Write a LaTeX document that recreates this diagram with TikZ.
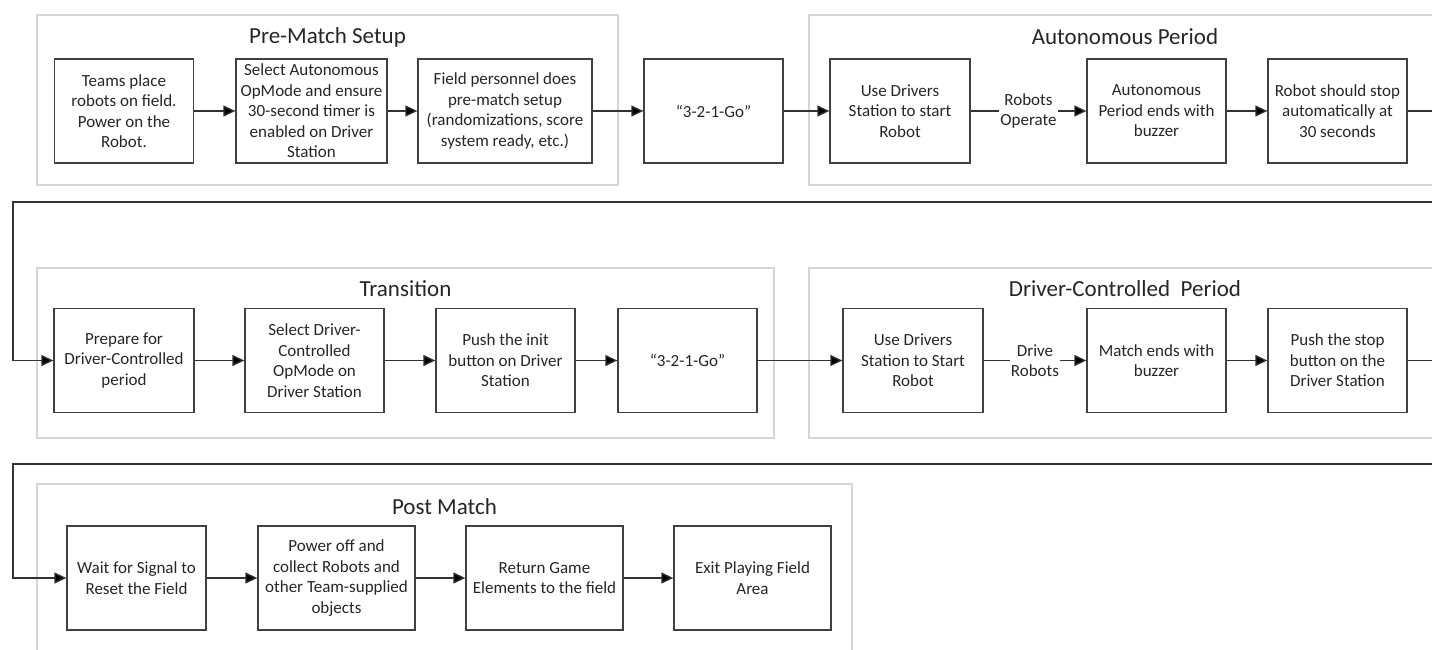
\documentclass[tikz,border=0pt]{standalone}
\usepackage{fontspec}
\setmainfont{Carlito}
\usetikzlibrary{arrows.meta}

\begin{document}
\begin{tikzpicture}[x=1pt, y=-1pt,
    stepbox/.style={rectangle, draw=black!75, line width=1.3pt, minimum width=139, minimum height=104, align=center, inner sep=2pt, text=black!85, font=\fontsize{17}{20.5}\selectfont},
    group/.style={draw=black!16, line width=1.3pt},
    grouptitle/.style={text=black!85, font=\fontsize{23}{27}\selectfont},
    flow/.style={draw=black!80, line width=1.3pt, -{Triangle[length=12pt, width=11pt, fill=black]}},
    flowlabel/.style={fill=white, align=center, inner sep=1pt, text=black!85, font=\fontsize{17}{20.5}\selectfont}]

    \useasboundingbox (0,0) rectangle (1432,650);

    % Draw the period frames and their titles
    \draw[group] (37,15) rectangle (618,185);
    \draw[group] (809,15) rectangle (1441,185);
    \draw[group] (37,268) rectangle (774,438);
    \draw[group] (809,268) rectangle (1441,438);
    \draw[group] (37,484) rectangle (852,665);
    \node[grouptitle] (tprematch) at (327.5,37) {Pre-Match Setup};
    \node[grouptitle] (tauto) at (1125,37) {Autonomous Period};
    \node[grouptitle] (ttrans) at (405.5,289) {Transition};
    \node[grouptitle] (tdriver) at (1125,289) {Driver-Controlled~ Period};
    \node[grouptitle] (tpost) at (444.5,507) {Post Match};

    % Draw the steps, row by row
    \node[stepbox] (box1) at (124,111) {Teams place\\robots on field.\\Power on the\\Robot.};
    \node[stepbox, minimum width=151] (box2) at (311.5,111) {Select Autonomous\\OpMode and ensure\\30-second timer is\\enabled on Driver\\Station};
    \node[stepbox, minimum width=174] (box3) at (505,111) {Field personnel does\\pre-match setup\\(randomizations, score\\system ready, etc.)};
    \node[stepbox] (box4) at (713.5,111) {“3-2-1-Go”};
    \node[stepbox, minimum width=140] (box5) at (900,111) {Use Drivers\\Station to start\\Robot};
    \node[stepbox] (box6) at (1156.5,111) {Autonomous\\Period ends with\\buzzer};
    \node[stepbox] (box7) at (1337.5,111) {Robot should stop\\automatically at\\30 seconds};

    \node[stepbox, minimum width=140] (box8) at (124,360.5) {Prepare for\\Driver-Controlled\\period};
    \node[stepbox] (box9) at (314.5,360.5) {Select Driver-\\Controlled\\OpMode on\\Driver Station};
    \node[stepbox] (box10) at (505.5,360.5) {Push the init\\button on Driver\\Station};
    \node[stepbox] (box11) at (687.5,360.5) {“3-2-1-Go”};
    \node[stepbox, minimum width=140] (box12) at (913,360.5) {Use Drivers\\Station to Start\\Robot};
    \node[stepbox] (box13) at (1156.5,360.5) {Match ends with\\buzzer};
    \node[stepbox] (box14) at (1337.5,360.5) {Push the stop\\button on the\\Driver Station};

    \node[stepbox] (box15) at (136.5,578) {Wait for Signal to\\Reset the Field};
    \node[stepbox, minimum width=157] (box16) at (336.5,578) {Power off and\\collect Robots and\\other Team-supplied\\objects};
    \node[stepbox, minimum width=157] (box17) at (544.5,578) {Return Game\\Elements to the field};
    \node[stepbox, minimum width=157] (box18) at (752.5,578) {Exit Playing Field\\Area};

    % Plain arrows between neighbouring steps
    \foreach \i [evaluate=\i as \nexti using int(\i+1)] in {1,2,3,4,6,8,9,10,11,13,15,16,17} {
        \draw[flow] (box\i) -- (box\nexti);
    }

    % Labelled arrows inside the two periods
    \draw[flow] (box5) -- node[flowlabel] (lbloperate) {Robots\\Operate} (box6);
    \draw[flow] (box12) -- node[flowlabel] (lbldrive) {Drive\\Robots} (box13);

    % Wrap from the end of one row to the start of the next
    \coordinate (wraponeright) at (1445,202);
    \coordinate (wraponeleft) at (13,202);
    \coordinate (wraptworight) at (1445,464);
    \coordinate (wraptwoleft) at (13,464);
    \draw[flow] (box7.east) -| (wraponeright) -- (wraponeleft) |- (box8.west);
    \draw[flow] (box14.east) -| (wraptworight) -- (wraptwoleft) |- (box15.west);
\end{tikzpicture}
\end{document}
